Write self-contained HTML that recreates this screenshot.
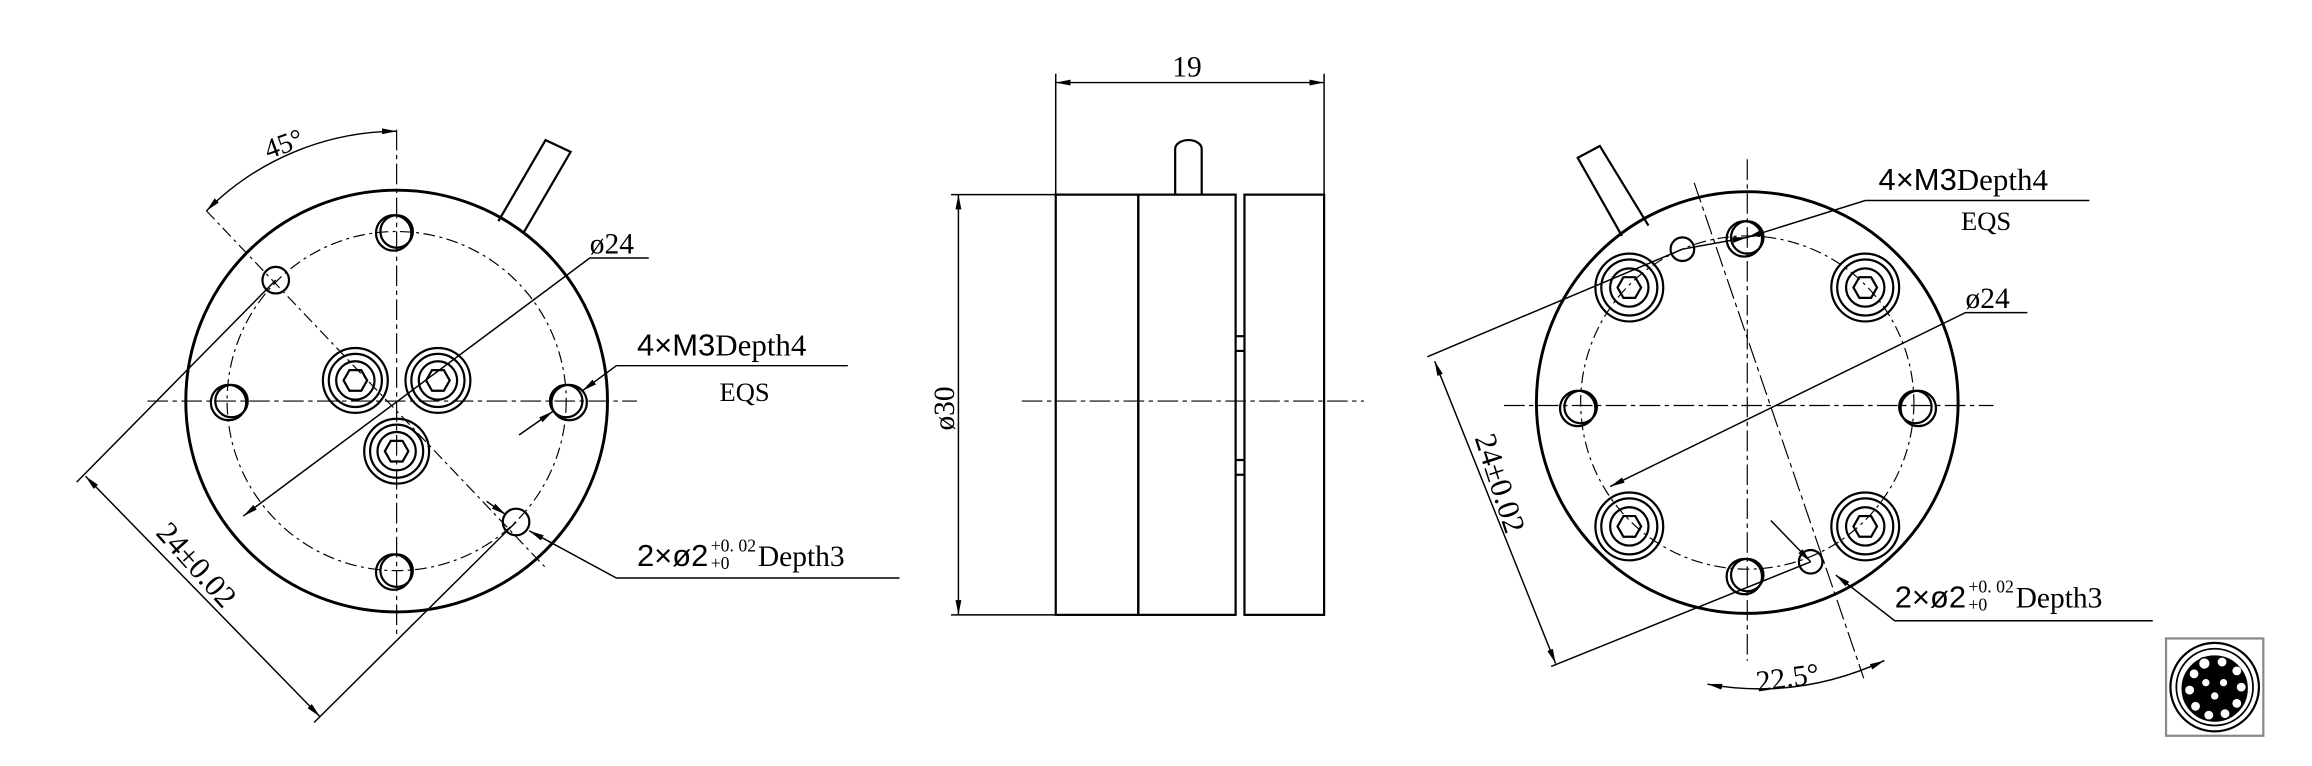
<!DOCTYPE html>
<html><head><meta charset="utf-8"><style>
html,body{margin:0;padding:0;background:#fff;width:2312px;height:766px;overflow:hidden}
svg{display:block}
text{font-family:"Liberation Serif","DejaVu Serif",serif;fill:#000}
.s{font-family:"Liberation Sans","DejaVu Sans",sans-serif}
</style></head><body>
<svg width="2312" height="766" viewBox="0 0 1568 519.5" xmlns="http://www.w3.org/2000/svg">
<defs>
<marker id="a" viewBox="0 0 10 4" refX="10" refY="2" markerWidth="10" markerHeight="4" orient="auto-start-reverse" markerUnits="userSpaceOnUse"><path d="M0,0L10,2L0,4z" fill="#000"/></marker>
</defs>
<g fill="none" stroke="#000" stroke-width="1">
<!-- LEFT VIEW -->
<circle cx="269" cy="272" r="143" stroke-width="2"/>
<circle cx="269" cy="272" r="115" stroke-dasharray="8,3,2,3" stroke-width="0.8"/>
<path d="M100,272H432M269,88V430" stroke-dasharray="14,3,3,3" stroke-width="0.8"/>
<path d="M338,150L370,95L387,103L355,158" stroke-width="1.5"/>
<g stroke-width="1.5">
<circle cx="269" cy="157" r="11"/><circle cx="267" cy="158" r="12"/>
<circle cx="269" cy="387" r="11"/><circle cx="267" cy="388" r="12"/>
<circle cx="157" cy="272" r="11"/><circle cx="155" cy="273" r="12"/>
<circle cx="384" cy="272" r="11"/><circle cx="386" cy="273" r="12"/>
<circle cx="187" cy="190" r="9"/><circle cx="350" cy="354" r="9"/>
<circle cx="241" cy="258" r="22"/><circle cx="241" cy="258" r="18"/><circle cx="241" cy="258" r="13"/>
<polygon points="233,258 237,251 245,251 249,258 245,265 237,265"/>
<circle cx="297" cy="258" r="22"/><circle cx="297" cy="258" r="18"/><circle cx="297" cy="258" r="13"/>
<polygon points="289,258 293,251 301,251 305,258 301,265 293,265"/>
<circle cx="269" cy="306" r="22"/><circle cx="269" cy="306" r="18"/><circle cx="269" cy="306" r="13"/>
<polygon points="261,306 265,299 273,299 277,306 273,313 265,313"/>
</g>
<path d="M140,143L370,385" stroke-dasharray="8,3,2,3" stroke-width="0.8"/>
<path d="M269,89A183,183 0 0 0 140,143" marker-start="url(#a)" marker-end="url(#a)"/>
<path d="M187,190L52,327M350,354L213,490"/>
<path d="M58,323L217,486" marker-start="url(#a)" marker-end="url(#a)"/>
<path d="M165,350L400,175H440" marker-start="url(#a)"/>
<path d="M575,248H418L395,265" marker-end="url(#a)"/>
<path d="M352,295L375,279" marker-end="url(#a)"/>
<path d="M330,340L343,349" marker-end="url(#a)"/>
<path d="M610,392H418L359,360" marker-end="url(#a)"/>
<!-- MIDDLE VIEW -->
<g stroke-width="1.5">
<rect x="716" y="132" width="56" height="285"/>
<rect x="772" y="132" width="66" height="285"/>
<rect x="844" y="132" width="54" height="285"/>
<path d="M797,132V101a9,6 0 0 1 18,0V132"/>
<path d="M838,228h6M838,238h6M838,312h6M838,322h6"/>
</g>
<path d="M693,272H925" stroke-dasharray="14,3,3,3" stroke-width="0.8"/>
<path d="M716,132V50M898,132V50"/>
<path d="M716,56H898" marker-start="url(#a)" marker-end="url(#a)"/>
<path d="M716,132H645M716,417H645"/>
<path d="M650,132V417" marker-start="url(#a)" marker-end="url(#a)"/>
<!-- RIGHT VIEW -->
<circle cx="1185" cy="273" r="143" stroke-width="2"/>
<circle cx="1185" cy="273" r="113" stroke-dasharray="8,3,2,3" stroke-width="0.8"/>
<path d="M1020,275H1352M1185,108V448" stroke-dasharray="14,3,3,3" stroke-width="0.8"/>
<path d="M1149,124L1264,460" stroke-dasharray="14,3,3,3" stroke-width="0.8"/>
<path d="M1100,160L1070,107L1085,99L1118,153" stroke-width="1.5"/>
<g stroke-width="1.5">
<circle cx="1185" cy="161" r="11"/><circle cx="1183" cy="162" r="12"/>
<circle cx="1185" cy="390" r="11"/><circle cx="1183" cy="391" r="12"/>
<circle cx="1072" cy="276" r="11"/><circle cx="1070" cy="277" r="12"/>
<circle cx="1299" cy="276" r="11"/><circle cx="1301" cy="277" r="12"/>
<circle cx="1141" cy="169" r="8"/><circle cx="1228" cy="381" r="8"/>
<circle cx="1105" cy="195" r="23"/><circle cx="1105" cy="195" r="19"/><circle cx="1105" cy="195" r="13"/>
<polygon points="1097,195 1101,188 1109,188 1113,195 1109,202 1101,202"/>
<circle cx="1265" cy="195" r="23"/><circle cx="1265" cy="195" r="19"/><circle cx="1265" cy="195" r="13"/>
<polygon points="1257,195 1261,188 1269,188 1273,195 1269,202 1261,202"/>
<circle cx="1105" cy="357" r="23"/><circle cx="1105" cy="357" r="19"/><circle cx="1105" cy="357" r="13"/>
<polygon points="1097,357 1101,350 1109,350 1113,357 1109,364 1101,364"/>
<circle cx="1265" cy="357" r="23"/><circle cx="1265" cy="357" r="19"/><circle cx="1265" cy="357" r="13"/>
<polygon points="1257,357 1261,350 1269,350 1273,357 1269,364 1261,364"/>
</g>
<path d="M1141,169L968,242M1228,381L1052,452"/>
<path d="M973,245L1055,450" marker-start="url(#a)" marker-end="url(#a)"/>
<path d="M1092,330L1333,212H1375" marker-start="url(#a)"/>
<path d="M1141,169L1185,161" marker-end="url(#a)"/>
<path d="M1185,161L1265,136H1417" marker-start="url(#a)"/>
<path d="M1201,353L1228,381" marker-end="url(#a)"/>
<path d="M1245,390L1285,421H1460" marker-start="url(#a)"/>
<path d="M1158,464Q1220,475 1278,448" marker-start="url(#a)" marker-end="url(#a)"/>
<!-- connector icon -->
<rect x="1469" y="433" width="66" height="66" stroke="#888" stroke-width="1.5"/>
<circle cx="1502" cy="466" r="30" stroke-width="1.5"/>
<circle cx="1502" cy="466" r="26" stroke-width="1.2"/>
<circle cx="1502" cy="467" r="22" fill="#000"/>
</g>
<g fill="#fff">
<circle cx="1488" cy="457" r="3"/><circle cx="1485" cy="468" r="3"/><circle cx="1489" cy="479" r="3"/>
<circle cx="1498" cy="485" r="3"/><circle cx="1509" cy="484" r="3"/><circle cx="1517" cy="477" r="3"/>
<circle cx="1520" cy="466" r="3"/><circle cx="1517" cy="455" r="3"/><circle cx="1507" cy="449" r="3"/>
<circle cx="1495" cy="450" r="4" stroke="#000"/>
<circle cx="1496" cy="463" r="2.5"/><circle cx="1508" cy="463" r="2.5"/><circle cx="1502" cy="472" r="2.5"/>
</g>
<!-- TEXT -->
<text x="0" y="0" font-size="19" transform="translate(182,108) rotate(-20)">45°</text>
<text x="0" y="0" font-size="21" transform="translate(105,362) rotate(48)">24±0.02</text>
<text x="400" y="172" font-size="20">ø24</text>
<text x="432" y="241" font-size="21"><tspan class="s">4×M3</tspan>Depth4</text>
<text x="488" y="272" font-size="18">EQS</text>
<text x="432" y="384" font-size="21"><tspan class="s">2×ø2</tspan></text>
<text x="482" y="374" font-size="12">+0. 02</text>
<text x="482" y="386" font-size="12">+0</text>
<text x="514" y="384" font-size="20">Depth3</text>
<text x="795" y="52" font-size="20">19</text>
<text x="0" y="0" font-size="20" transform="translate(647,292) rotate(-90)">ø30</text>
<text x="1274" y="129" font-size="21"><tspan class="s">4×M3</tspan>Depth4</text>
<text x="1330" y="156" font-size="18">EQS</text>
<text x="1333" y="209" font-size="20">ø24</text>
<text x="0" y="0" font-size="21" transform="translate(1000,297) rotate(72)">24±0.02</text>
<text x="1285" y="412" font-size="21"><tspan class="s">2×ø2</tspan></text>
<text x="1335" y="402" font-size="12">+0. 02</text>
<text x="1335" y="414" font-size="12">+0</text>
<text x="1367" y="412" font-size="20">Depth3</text>
<text x="0" y="0" font-size="20" transform="translate(1192,469) rotate(-8)">22.5°</text>
</svg>
</body></html>
